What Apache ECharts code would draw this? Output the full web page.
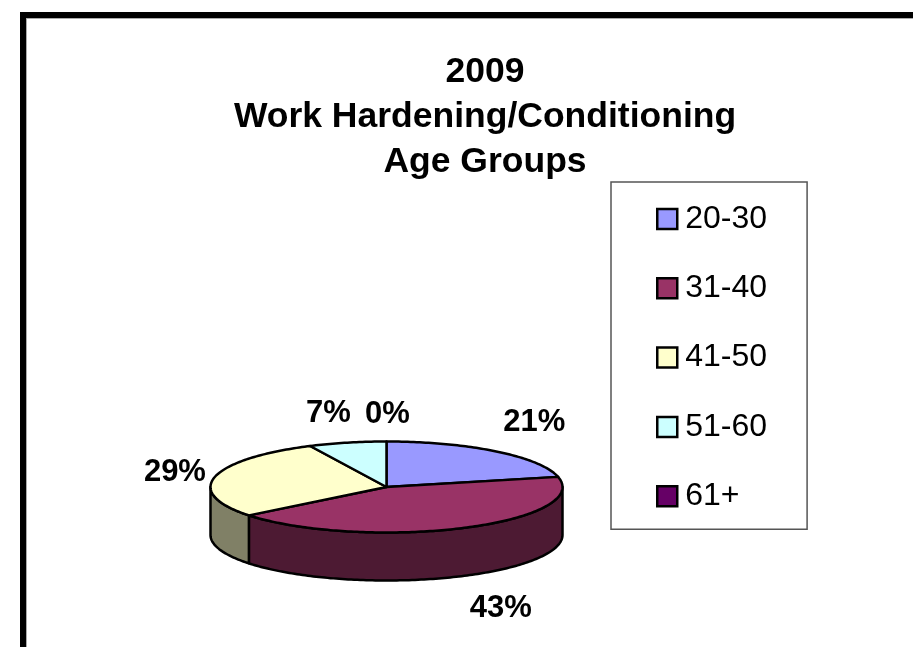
<!DOCTYPE html>
<html>
<head>
<meta charset="utf-8">
<style>html,body{margin:0;padding:0;background:#fff}#c{width:913px;height:647px}</style>
<script src="https://cdn.jsdelivr.net/npm/echarts@6/dist/echarts.min.js"></script>
</head>
<body>
<div id="c"></div>
<script>
const titleLines = ['2009', 'Work Hardening/Conditioning', 'Age Groups'];
const categories = ['20-30', '31-40', '41-50', '51-60', '61+'];
const values = [3, 6, 4, 1, 0];
const topColors = ['#9999FF', '#993366', '#FFFFCC', '#CCFFFF', '#660066'];
const sideColors = ['#4D4D80', '#4D1A33', '#808066', '#668080', '#330033'];
const labelOffsets = [[38, -29], [38, 80], [-40, -4], [-19, -29], [1, -27]];

const FONT = '"Liberation Sans", Arial, sans-serif';
const CX = 386.5, CY = 487, RX = 176, RY = 45.5, DEPTH = 48;
const total = values.reduce((a, b) => a + b, 0);
const ell = (deg, dy) => {
  const r = deg * Math.PI / 180;
  return [CX + RX * Math.sin(r), CY + dy - RY * Math.cos(r)];
};
const arc = (from, to, dy) => {
  const pts = [];
  const n = Math.max(1, Math.ceil(Math.abs(to - from)));
  for (let i = 0; i <= n; i++) pts.push(ell(from + (to - from) * i / n, dy));
  return pts;
};

function makeSeries(name, index) {
  const before = values.slice(0, index).reduce((a, b) => a + b, 0);
  return {
    type: 'custom',
    name,
    coordinateSystem: 'none',
    itemStyle: { color: topColors[index], borderColor: '#000', borderWidth: 2 },
    data: [values[index]],
    renderItem(params, api) {
      const v = api.value(0);
      const a0 = before / total * 360;
      const a1 = (before + v) / total * 360;
      const children = [];
      const line = { stroke: '#000', lineWidth: 2.5, lineJoin: 'round' };
      if (v > 0) {
        children.push({
          type: 'polygon', z2: 2,
          shape: { points: [[CX, CY]].concat(arc(a0, a1, 0)) },
          style: Object.assign({ fill: topColors[index] }, line)
        });
        const s0 = Math.max(a0, 90), s1 = Math.min(a1, 270);
        if (s1 > s0) {
          children.push({
            type: 'polygon', z2: 1,
            shape: { points: arc(s0, s1, 0).concat(arc(s1, s0, DEPTH)) },
            style: Object.assign({ fill: sideColors[index] }, line)
          });
        }
      }
      const mid = ell((a0 + a1) / 2, 0);
      children.push({
        type: 'text', z2: 3,
        style: {
          text: Math.round(v / total * 100) + '%',
          x: mid[0] + labelOffsets[index][0],
          y: mid[1] + labelOffsets[index][1],
          align: 'center', verticalAlign: 'middle',
          fill: '#000',
          font: 'bold 31px ' + FONT
        }
      });
      return { type: 'group', children };
    }
  };
}

const chart = echarts.init(document.getElementById('c'), null, { renderer: 'canvas' });
chart.setOption({
  animation: false,
  backgroundColor: '#fff',
  title: {
    text: titleLines.join('\n'),
    left: 485, top: 50,
    textAlign: 'center',
    padding: 0,
    textStyle: { fontFamily: FONT, fontWeight: 'bold', fontSize: 35.5, lineHeight: 45, color: '#000' }
  },
  legend: {
    orient: 'vertical',
    left: 611, top: 182,
    padding: [21, 40, 17, 45],
    itemWidth: 20, itemHeight: 20, itemGap: 37.3,
    backgroundColor: '#fff',
    borderColor: '#555', borderWidth: 1.5,
    selectedMode: false,
    icon: 'rect',
    data: categories,
    itemStyle: { borderColor: '#000', borderWidth: 2.5 },
    textStyle: { fontFamily: FONT, fontSize: 32, color: '#000', padding: [0, 0, 0, 3] }
  },
  graphic: [
    { type: 'rect', silent: true, shape: { x: 20, y: 12, width: 893, height: 6 }, style: { fill: '#000' } },
    { type: 'rect', silent: true, shape: { x: 20, y: 12, width: 6, height: 635 }, style: { fill: '#000' } },
    { type: 'rect', silent: true, shape: { x: 26, y: 18, width: 887, height: 1 }, style: { fill: '#AAA' } },
    { type: 'rect', silent: true, shape: { x: 26, y: 18, width: 1, height: 629 }, style: { fill: '#AAA' } }
  ],
  series: categories.map(makeSeries)
});
</script>
</body>
</html>
